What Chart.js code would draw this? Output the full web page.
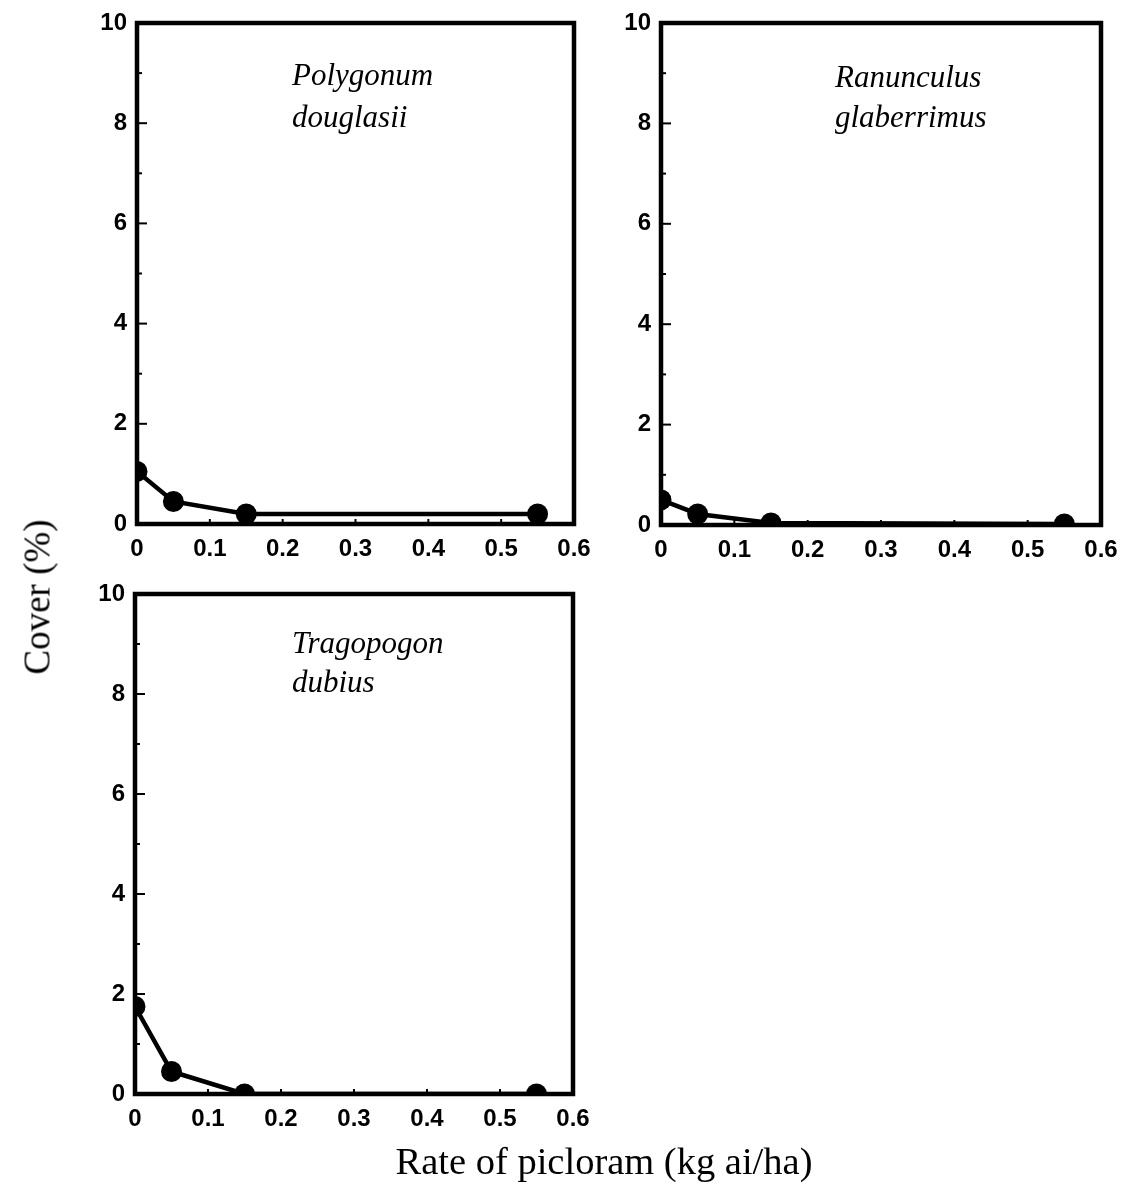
<!DOCTYPE html>
<html>
<head>
<meta charset="utf-8">
<title>Cover vs. rate of picloram</title>
<script src="https://cdn.jsdelivr.net/npm/chart.js@4.4.1/dist/chart.umd.min.js"></script>
<style>
  html, body { margin: 0; padding: 0; background: #fff; }
  #page { position: relative; width: 1126px; height: 1199px; overflow: hidden; background: #fff; }
  canvas { position: absolute; }
  .axis-title {
    position: absolute;
    font-family: "Liberation Serif", "Times New Roman", serif;
    color: #000;
    white-space: nowrap;
    line-height: 1;
  }
  #ytitle { font-size: 37px; left: 37px; top: 597px; transform: translate(-50%, -50%) rotate(-90deg); }
  #xtitle { font-size: 38.5px; left: 604px; top: 1161px; transform: translate(-50%, -50%); }
</style>
</head>
<body>
<div id="page">
  <canvas id="c1"></canvas>
  <canvas id="c2"></canvas>
  <canvas id="c3"></canvas>
  <div class="axis-title" id="ytitle">Cover (%)</div>
  <div class="axis-title" id="xtitle">Rate of picloram (kg ai/ha)</div>
</div>
<script>
// Application rates (kg ai/ha)
const rates = [0, 0.05, 0.15, 0.55];

// Cover (%) of each species at those rates
const polygonumCover = [1.05, 0.45, 0.2, 0.2];
const ranunculusCover = [0.5, 0.22, 0.04, 0.02];
const tragopogonCover = [1.75, 0.45, 0, 0];

// Species names, set in italics inside each panel
const polygonumName = ["Polygonum", "douglasii"];
const ranunculusName = ["Ranunculus", "glaberrimus"];
const tragopogonName = ["Tragopogon", "dubius"];

// Tick labels shared by every panel
const xTickValues = [0, 0.1, 0.2, 0.3, 0.4, 0.5, 0.6];
const yTickValues = [0, 2, 4, 6, 8, 10];

// Box outline, inward tick marks and the species name
const panelDecor = {
  id: 'panelDecor',
  afterDatasetsDraw(chart, args, opts) {
    const ctx = chart.ctx;
    const a = chart.chartArea;
    const xs = chart.scales.x;
    const ys = chart.scales.y;
    ctx.save();
    ctx.strokeStyle = '#000';
    ctx.lineCap = 'butt';

    // inward ticks on the left axis: majors at labelled values, minors halfway
    ctx.lineWidth = 2;
    const yt = ys.ticks.map(t => t.value);
    yt.forEach((v, i) => {
      const py = ys.getPixelForValue(v);
      ctx.beginPath(); ctx.moveTo(a.left, py); ctx.lineTo(a.left + 10, py); ctx.stroke();
      if (i < yt.length - 1) {
        const pm = ys.getPixelForValue((v + yt[i + 1]) / 2);
        ctx.beginPath(); ctx.moveTo(a.left, pm); ctx.lineTo(a.left + 5, pm); ctx.stroke();
      }
    });
    // small inward ticks on the bottom axis
    xs.ticks.forEach(t => {
      const px = xs.getPixelForValue(t.value);
      ctx.beginPath(); ctx.moveTo(px, a.bottom); ctx.lineTo(px, a.bottom - 5); ctx.stroke();
    });

    // frame
    ctx.lineWidth = 4.5;
    ctx.lineJoin = 'miter';
    ctx.strokeRect(a.left, a.top, a.right - a.left, a.bottom - a.top);

    // species name
    ctx.fillStyle = '#000';
    ctx.font = 'italic 31px "Liberation Serif", "Times New Roman", serif';
    ctx.textAlign = 'left';
    ctx.textBaseline = 'alphabetic';
    opts.lines.forEach((line, i) => {
      ctx.fillText(line, a.left + opts.dx, a.top + opts.dy[i]);
    });
    ctx.restore();
  }
};

function makePanel(id, canvasLeft, area, values, name, labelPos) {
  const padTop = 30, padRight = 30, xAxisH = 50;
  const canvasTop = area.top - padTop;
  const w = area.right + padRight - canvasLeft;
  const h = area.bottom - canvasTop + xAxisH;
  const cv = document.getElementById(id);
  cv.width = w; cv.height = h;
  cv.style.left = canvasLeft + 'px';
  cv.style.top = canvasTop + 'px';
  cv.style.width = w + 'px'; cv.style.height = h + 'px';

  const tickFont = { family: '"Liberation Sans", Arial, sans-serif', size: 24, weight: 'bold' };

  return new Chart(cv, {
    type: 'line',
    data: {
      datasets: [{
        data: rates.map((r, i) => ({ x: r, y: values[i] })),
        borderColor: '#000',
        backgroundColor: '#000',
        borderWidth: 4.5,
        pointRadius: 10.5,
        pointHoverRadius: 10.5,
        pointBackgroundColor: '#000',
        pointBorderColor: '#000',
        pointBorderWidth: 0,
        tension: 0,
        fill: false,
        clip: 0
      }]
    },
    options: {
      responsive: false,
      animation: false,
      events: [],
      layout: { padding: { left: 0, top: padTop, right: padRight, bottom: 0 } },
      plugins: {
        legend: { display: false },
        tooltip: { enabled: false },
        title: { display: false },
        panelDecor: { lines: name, dx: labelPos.dx, dy: labelPos.dy }
      },
      scales: {
        x: {
          type: 'linear',
          min: 0, max: 0.6,
          afterBuildTicks: s => { s.ticks = xTickValues.map(v => ({ value: v })); },
          afterFit: s => { s.height = xAxisH; },
          grid: { display: false, drawTicks: false },
          border: { display: false },
          ticks: {
            autoSkip: false, maxRotation: 0, padding: 11,
            color: '#000', font: tickFont,
            callback: v => String(v)
          }
        },
        y: {
          type: 'linear',
          min: 0, max: 10,
          afterBuildTicks: s => { s.ticks = yTickValues.map(v => ({ value: v })); },
          afterFit: s => { s.width = area.left - canvasLeft; },
          grid: { display: false, drawTicks: false },
          border: { display: false },
          ticks: {
            padding: 10,
            color: '#000', font: tickFont,
            callback: v => String(v)
          }
        }
      }
    },
    plugins: [panelDecor]
  });
}

makePanel('c1', 0,   { left: 137, top: 23,  right: 574,  bottom: 524 },  polygonumCover,  polygonumName,  { dx: 155, dy: [62, 104] });
makePanel('c2', 590, { left: 661, top: 23,  right: 1101, bottom: 525 },  ranunculusCover, ranunculusName, { dx: 174, dy: [64, 104] });
makePanel('c3', 0,   { left: 135, top: 594, right: 573,  bottom: 1094 }, tragopogonCover, tragopogonName, { dx: 157, dy: [59, 98] });
</script>
</body>
</html>
